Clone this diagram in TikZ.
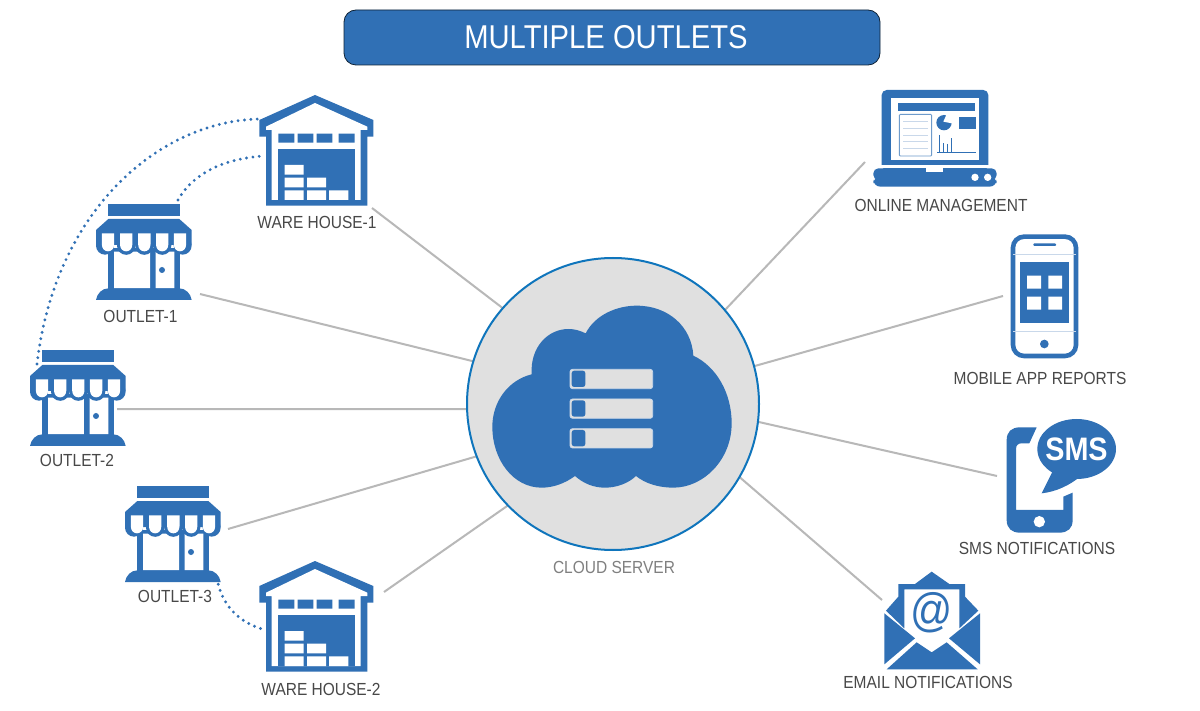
\documentclass[tikz,border=0pt]{standalone}
\usepackage{fontspec}
\setmainfont[FakeStretch=0.885]{Liberation Sans}
\definecolor{iconblue}{HTML}{3070B5}
\definecolor{ringblue}{HTML}{0F75BC}
\definecolor{disc}{HTML}{E0E0E0}
\definecolor{wire}{HTML}{B8B8B8}
\definecolor{labeltext}{HTML}{484848}
\definecolor{softline}{HTML}{C9D8EA}
\tikzset{
  wirelink/.style={draw=wire,line width=2pt},
  dotlink/.style={draw=iconblue,line width=3.2pt,line cap=round,dash pattern=on 0pt off 6.4pt},
  tag/.style={text=labeltext,font=\fontsize{17.5}{20}\selectfont,inner sep=0pt},
  pics/warehouse/.style={code={
    \fill[iconblue] (225,30)--(400,105)--(400,155)--(382,155)--(382,362)--(78,362)--(78,155)--(58,155)--(58,105)--cycle;
    \fill[white] (225,54)--(382,125)--(382,135)--(362,135)--(362,345)--(95,345)--(95,135)--(78,135)--(78,125)--cycle;
    \fill[iconblue] (115,146) rectangle (163,173) (173,146) rectangle (220,173) (230,146) rectangle (277,173) (296,146) rectangle (344,173);
    \fill[iconblue] (115,193) rectangle (344,345);
    \fill[white] (134,240) rectangle (191,269) (134,278) rectangle (191,307) (201,278) rectangle (258,307)
      (134,316) rectangle (191,345) (201,316) rectangle (258,345) (267,316) rectangle (325,345);
  }},
  pics/store/.style={code={
    \fill[iconblue] (68,27) rectangle (285,63);
    \fill[iconblue] (70,160) rectangle (285,290);
    \fill[white] (87,170) rectangle (195,280) (212,170) rectangle (268,280);
    \fill[iconblue] (33,105)--(70,72)--(283,72)--(320,105)--(320,150)--(33,150)--cycle;
    \foreach \c/\r in {60/27,123.5/27.5,178/27.5,231.5/27.5,293/27}{\fill[iconblue] (\c,152) circle[radius=\r];}
    \foreach \c in {69,123.5,178,231.5,285}{
      \fill[white] (\c-18.5,115)--(\c+18.5,115)--(\c+18.5,148) .. controls (\c+18.5,176) and (\c-18.5,176) .. (\c-18.5,148) --cycle;}
    \fill[iconblue] (231,225) circle[radius=9];
    \fill[iconblue] (33,315) .. controls (36,295) and (52,280) .. (70,280)--(283,280) .. controls (301,280) and (317,295) .. (320,315)--cycle;
  }}
}
\begin{document}
\begin{tikzpicture}[x=1pt,y=-1pt]
\useasboundingbox (0,0) rectangle (1200,711);
\fill[white] (0,0) rectangle (1200,711);

% title
\node[fill=iconblue,draw=black!70!iconblue,line width=.8pt,rounded corners=12pt,minimum width=536pt,minimum height=55pt,inner sep=0pt,text=white,font=\fontsize{33}{36}\selectfont] (title) at (612,37.5) {MULTIPLE OUTLETS\hspace*{12pt}};

% free ends of the connectors
\coordinate (cWa) at (372,208);
\coordinate (cOa) at (200,294);
\coordinate (cOb) at (117,409);
\coordinate (cOc) at (228,529);
\coordinate (cWb) at (384,592);
\coordinate (cLap) at (865,162);
\coordinate (cMob) at (1003,296);
\coordinate (cSms) at (997,476);
\coordinate (cMail) at (882,600);

% hub
\node[circle,minimum size=292pt,inner sep=0pt,outer sep=0pt] (server) at (613,404) {};
\draw[wirelink] (cWa) -- (server.139.1);
\draw[wirelink] (cOa) -- (server.163.8);
\draw[wirelink] (cOb) -- (server.182);
\draw[wirelink] (cOc) -- (server.201);
\draw[wirelink] (cWb) -- (server.224.7);
\draw[wirelink] (cLap) -- (server.40.6);
\draw[wirelink] (cMob) -- (server.15.7);
\draw[wirelink] (cSms) -- (server.-7.8);
\draw[wirelink] (cMail) -- (server.-30.2);
\filldraw[fill=disc,draw=ringblue,line width=2pt] (server.center) circle[radius=146pt];

% cloud
\begin{scope}[shift={(480,290)},scale=1/3]
  \fill[iconblue] (155,253) .. controls (150,170) and (205,117) .. (265,117) .. controls (285,117) and (300,122) .. (317,130) .. controls (345,75) and (410,47) .. (470,47) .. controls (565,47) and (635,110) .. (640,197) .. controls (710,230) and (755,310) .. (755,400) .. controls (755,510) and (670,593) .. (580,593) .. controls (535,593) and (495,580) .. (468,558) .. controls (445,580) and (410,593) .. (375,593) .. controls (340,593) and (310,580) .. (285,558) .. controls (255,580) and (220,593) .. (185,593) .. controls (100,593) and (37,510) .. (37,410) .. controls (37,335) and (85,270) .. (155,253) -- cycle;
  \foreach \d in {0,89,178}{
    \filldraw[fill=disc,draw=softline,line width=.8pt,rounded corners=2.5pt] (270,238+\d) rectangle (518,296+\d);
    \fill[iconblue,rounded corners=2.5pt] (275,242+\d) rectangle (316,291+\d);
  }
\end{scope}

% warehouses and outlets
\pic[shift={(240,85)},scale=1/3] {warehouse};
\pic[shift={(240,551)},scale=1/3] {warehouse};
\pic[shift={(85,195)},scale=1/3] {store};
\pic[shift={(19,341)},scale=1/3] {store};
\pic[shift={(114,477)},scale=1/3] {store};

% dotted links
\coordinate (dA) at (37,364);
\coordinate (dB) at (261,119);
\coordinate (dC) at (178,200);
\coordinate (dD) at (264,156);
\coordinate (dE) at (217,578);
\coordinate (dF) at (266,630);
\draw[dotlink] (dA) .. controls (55,210) and (160,120) .. (dB);
\draw[dotlink] (dC) .. controls (195,170) and (230,158) .. (dD);
\draw[dotlink] (dE) .. controls (222,610) and (245,625) .. (dF);

% laptop
\begin{scope}[shift={(860,80)},scale=1/3]
  \fill[iconblue,rounded corners=5pt] (65,270)--(65,30)--(385,30)--(385,270)--cycle;
  \fill[white] (93,55) rectangle (358,240);
  \fill[white] (40,255) rectangle (410,265);
  \fill[iconblue] (113,70) rectangle (345,92);
  \filldraw[fill=white,draw=iconblue!70,line width=.9pt,rounded corners=1pt] (118,103) rectangle (215,228);
  \foreach \y in {125,145,165,185,205}{\draw[softline,line width=.8pt] (130,\y)--(203,\y);}
  \fill[iconblue] (252,128) circle[radius=23];
  \fill[white] (250,125)--(262,98)--(285,105)--(285,132)--cycle;
  \fill[iconblue] (296,111) rectangle (348,148);
  \draw[iconblue,line width=.8pt] (232,218)--(348,218) (238,165)--(238,218) (250,190)--(250,218) (262,192)--(262,218) (274,175)--(274,218);
  \fill[iconblue,rounded corners=7pt] (40,290)--(40,320)--(410,320)--(410,290)--cycle;
  \fill[iconblue,rounded corners=5pt] (40,300)--(40,265)--(410,265)--(410,300)--cycle;
  \fill[white] (198,265) rectangle (250,277);
  \fill[white] (345,292) circle[radius=11] (383,292) circle[radius=11];
\end{scope}

% phone
\begin{scope}[shift={(990,225)},scale=1/3]
  \draw[iconblue,line width=4.6pt,fill=white,rounded corners=11pt] (69,35) rectangle (258,393);
  \draw[softline,line width=.8pt] (70,88)--(257,88) (70,318)--(257,318);
  \fill[iconblue,rounded corners=1pt] (130,55) rectangle (198,63);
  \fill[iconblue] (90,110) rectangle (237,293);
  \fill[white] (111,152) rectangle (153,191) (175,152) rectangle (216,191) (111,215) rectangle (153,254) (175,215) rectangle (216,254);
  \fill[iconblue] (163,357) circle[radius=13];
\end{scope}

% sms phone
\begin{scope}[shift={(990,225)},scale=1/3]
  \fill[iconblue] (140,607)--(90,607) .. controls (65,607) and (50,620) .. (50,645)--(50,885) .. controls (50,910) and (65,923) .. (90,923)--(208,923) .. controls (233,923) and (248,910) .. (248,885)--(248,803)--(220,815)--(220,855)--(78,855)--(78,672) .. controls (78,660) and (85,655) .. (95,655)--(118,655)--cycle;
  \fill[white] (148,890) circle[radius=17];
  \fill[iconblue] (260,672) ellipse[x radius=118,y radius=90];
  \fill[iconblue] (190,735)--(155,805) .. controls (200,800) and (240,780) .. (270,755)--cycle;
\end{scope}
\node[text=white,inner sep=0pt,font=\bfseries\fontsize{32.5}{34}\selectfont] (smsword) at (1076.5,449.5) {SMS};

% mail
\begin{scope}[shift={(870,560)},scale=1/3]
  \fill[iconblue] (48,152)--(85,110)--(85,72)--(135,72)--(185,35)--(238,72)--(285,72)--(285,110)--(325,152)--(268,205)--(268,88)--(103,88)--(103,205)--cycle;
  \fill[iconblue] (43,160)--(135,235)--(43,313)--cycle;
  \fill[iconblue] (330,160)--(237,235)--(330,313)--cycle;
  \fill[iconblue] (50,328)--(140,247)--(185,277)--(230,247)--(323,328)--cycle;
\end{scope}
\node[text=iconblue,inner sep=0pt,font=\fontsize{47}{50}\selectfont] (atsign) at (932,613) {@};

% labels
\node[tag] (lWa) at (317,222) {WARE HOUSE-1};
\node[tag] (lOa) at (140.5,316) {OUTLET-1};
\node[tag] (lOb) at (77,460) {OUTLET-2};
\node[tag] (lOc) at (175,596) {OUTLET-3};
\node[tag] (lWb) at (321,689) {WARE HOUSE-2};
\node[tag] (lLap) at (941,205) {ONLINE MANAGEMENT};
\node[tag] (lMob) at (1040,378) {MOBILE APP REPORTS};
\node[tag] (lSms) at (1037,548) {SMS NOTIFICATIONS};
\node[tag] (lMail) at (928,682) {EMAIL NOTIFICATIONS};
\node[tag,text=black!50] (lSrv) at (614,567) {CLOUD SERVER};
\end{tikzpicture}
\end{document}
